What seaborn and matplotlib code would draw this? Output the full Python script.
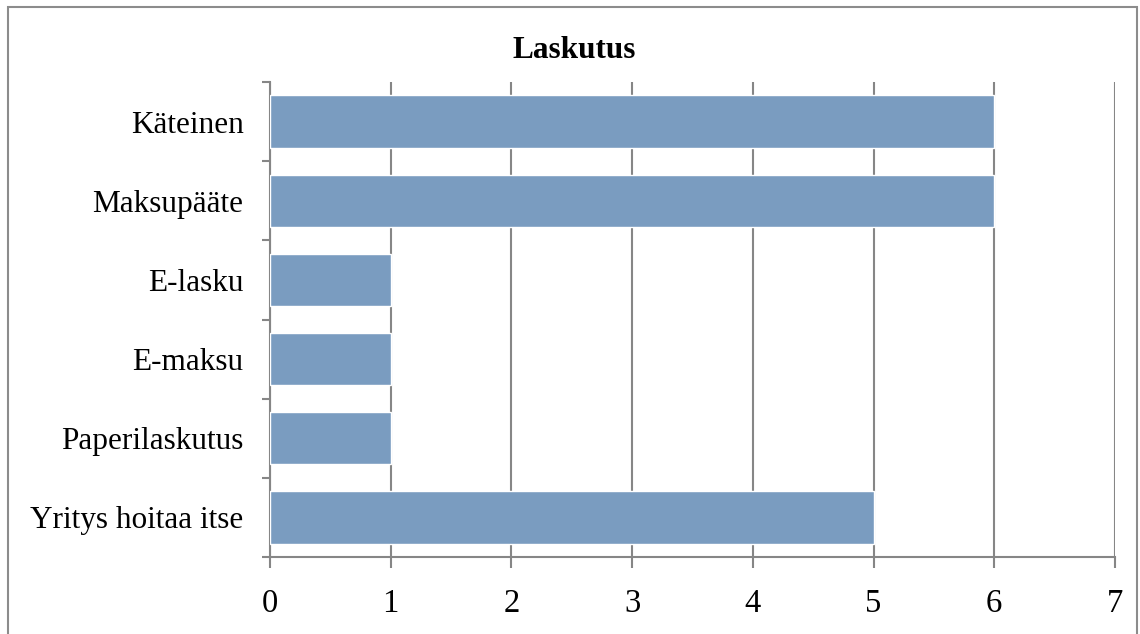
import matplotlib
matplotlib.use('Agg')
import matplotlib.pyplot as plt
import matplotlib.patches as patches
import seaborn as sns
import pandas as pd

categories = ['Käteinen', 'Maksupääte', 'E-lasku', 'E-maksu', 'Paperilaskutus', 'Yritys hoitaa itse']
values = [6, 6, 1, 1, 1, 5]
x_ticks = [0, 1, 2, 3, 4, 5, 6, 7]

df = pd.DataFrame({'tapa': categories, 'maara': values})

sns.set_style('white')
plt.rcParams['font.family'] = ['Liberation Serif', 'DejaVu Serif']
plt.rcParams['text.color'] = 'black'

grid_col = '#868686'
bar_col = '#7a9cc0'

fig = plt.figure(figsize=(11.4, 6.34), dpi=100)
ax = fig.add_axes([270 / 1140, 1 - 557 / 634, (1115 - 270) / 1140, (557 - 82) / 634])

sns.barplot(data=df, x='maara', y='tapa', orient='h', color=bar_col,
            saturation=1, width=0.66, ax=ax, zorder=3)

ax.set_xlim(0, 7)
ax.set_ylim(len(categories) - 0.5, -0.5)
ax.set_xticks(x_ticks)
ax.set_xticklabels([str(t) for t in x_ticks], fontsize=23.5)
ax.set_xlabel('')
ax.set_ylabel('')
ax.tick_params(axis='y', which='major', labelsize=22.5, length=0, pad=19, labelcolor='black')
ax.tick_params(axis='x', which='major', bottom=True, length=8, width=1.5, color=grid_col,
               direction='out', pad=15, labelcolor='black')

# y ticks between categories
ax.set_yticks([i - 0.5 for i in range(len(categories) + 1)], minor=True)
ax.tick_params(axis='y', which='minor', left=True, length=6, width=1.5, color=grid_col,
               direction='out')

ax.xaxis.grid(True, color=grid_col, linewidth=1.5, zorder=0)
ax.set_axisbelow(True)
for s in ['top', 'right']:
    ax.spines[s].set_visible(False)
for s in ['left', 'bottom']:
    ax.spines[s].set_color(grid_col)
    ax.spines[s].set_linewidth(1.5)

fig.text(574 / 1140, 1 - 50 / 634, 'Laskutus', ha='center', va='center',
         fontsize=22.5, fontweight='bold', color='black')

# frame around the chart area
fig.patches.append(patches.Rectangle((8 / 1140, -0.05), (1137 - 8) / 1140, 1.05 - 7 / 634,
                                     transform=fig.transFigure, fill=False,
                                     edgecolor='#8c8c8c', linewidth=1.5))

fig.savefig('out.png', dpi=100)
